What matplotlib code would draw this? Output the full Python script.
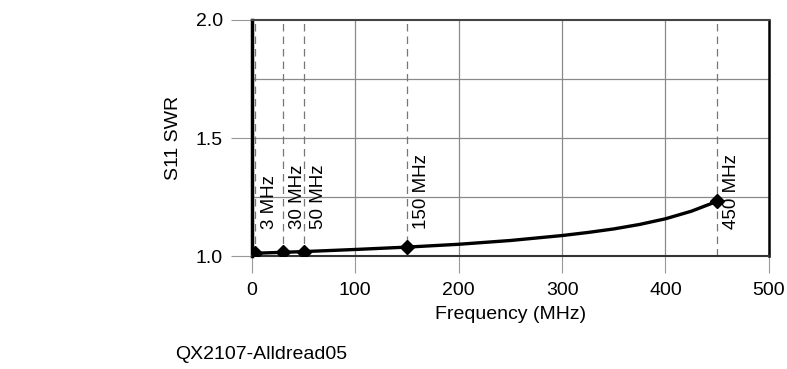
import matplotlib
matplotlib.use("Agg")
import matplotlib.pyplot as plt

# curve
freq = [3, 30, 50, 100, 150, 200, 250, 300, 325, 350, 375, 400, 425, 450]
swr = [1.012, 1.016, 1.019, 1.028, 1.038, 1.05, 1.066, 1.087, 1.1, 1.115, 1.134, 1.158, 1.19, 1.232]

# marked frequencies
mark_freq = [3, 30, 50, 150, 450]
mark_swr = [1.012, 1.016, 1.019, 1.038, 1.232]
mark_labels = ["3 MHz", "30 MHz", "50 MHz", "150 MHz", "450 MHz"]

plt.rcParams["font.family"] = ["Liberation Sans", "DejaVu Sans"]

fig = plt.figure(figsize=(7.87, 3.69), dpi=100)
ax = fig.add_axes([0.320, 0.306, 0.657, 0.640])

ax.set_xlim(0, 500)
ax.set_ylim(1.0, 2.0)

for x in [100, 200, 300, 400]:
    ax.axvline(x, color="#8a8a8a", lw=0.9, zorder=1)
for y in [1.25, 1.5, 1.75]:
    ax.axhline(y, color="#8a8a8a", lw=0.9, zorder=1)

for f, lab in zip(mark_freq, mark_labels):
    ax.axvline(f, color="#777777", lw=0.9, ls=(0, (6, 4)), zorder=2)
    ax.annotate(lab, (f, 1.115), xytext=(4.5, 0), textcoords="offset points",
                rotation=90, ha="left", va="bottom", fontsize=13.5)

ax.plot(freq, swr, color="black", lw=2.4, zorder=3)
ax.plot(mark_freq, mark_swr, "D", color="black", ms=7, zorder=4)

ax.set_xticks([0, 100, 200, 300, 400, 500])
ax.set_yticks([1.0, 1.5, 2.0])
ax.set_yticklabels(["1.0", "1.5", "2.0"])
ax.tick_params(axis="x", length=12, color="#999999", labelsize=14, pad=7)
ax.tick_params(axis="y", length=15, color="#999999", labelsize=14, pad=6)

ax.spines["left"].set_linewidth(2.5)
ax.spines["right"].set_linewidth(1.8)
ax.spines["top"].set_linewidth(1.5)
ax.spines["top"].set_color("#444444")
ax.spines["bottom"].set_linewidth(1.5)
ax.spines["bottom"].set_color("#333333")

ax.set_xlabel("Frequency (MHz)", fontsize=14, labelpad=5)
ax.set_ylabel("S11 SWR", fontsize=14, labelpad=10)

fig.text(0.222, 0.04, "QX2107-Alldread05", fontsize=14, ha="left", va="center")

fig.savefig("out.png", dpi=100)
